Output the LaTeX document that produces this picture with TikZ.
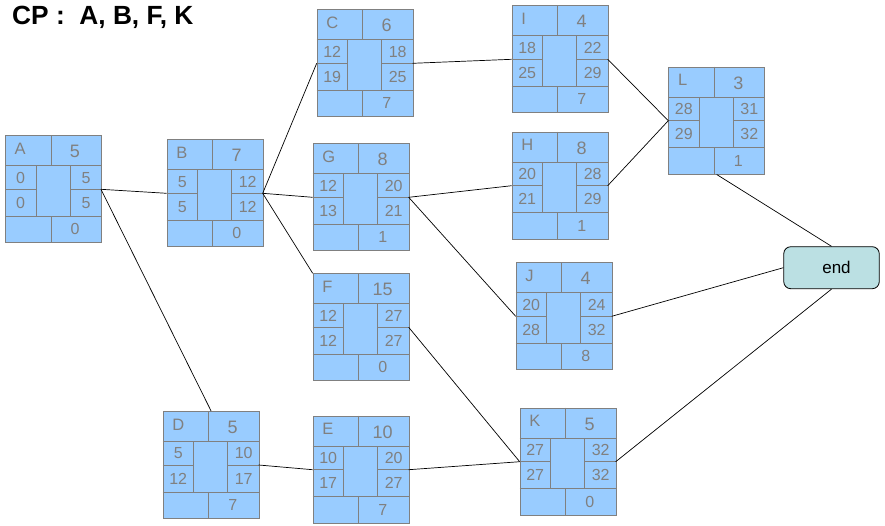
\documentclass[tikz,border=0pt]{standalone}
\usepackage{fontspec}
\setmainfont{Liberation Sans}
\definecolor{cellblue}{HTML}{99CCFF}
\definecolor{cellgray}{HTML}{808080}
\definecolor{endfill}{HTML}{BBE0E3}
\tikzset{
  actcell/.style={draw=cellgray,fill=cellblue,line width=0.8pt,minimum width=96pt,minimum height=107pt,inner sep=0pt},
  actline/.style={draw=cellgray,line width=0.8pt},
  actnum/.style={text=cellgray,inner sep=0pt,font=\fontsize{16}{17}\selectfont},
  actlab/.style={text=cellgray,inner sep=0pt,font=\fontsize{16.5}{17}\selectfont},
  actdur/.style={text=cellgray,inner sep=0pt,font=\fontsize{18}{19}\selectfont},
  link/.style={draw=black,line width=0.7pt},
  endbox/.style={draw=black,fill=endfill,rounded corners=7pt,line width=0.8pt,minimum width=95.5pt,minimum height=42pt,inner sep=0pt,font=\fontsize{17}{18}\selectfont}
}
% activity box: name, top-left corner, duration, ES, LS, EF, LF, slack
\newcommand{\actbox}[8]{%
\begin{scope}[shift={(#2)}]
\node[actcell,anchor=north west] (#1) at (0,0) {};
\draw[actline] (0,30.5) -- (96,30.5);
\draw[actline] (46,0) -- (46,30.5);
\draw[actline] (0,81) -- (96,81);
\draw[actline] (46,81) -- (46,107);
\draw[actline] (31,30.5) -- (31,81);
\draw[actline] (65,30.5) -- (65,81);
\draw[actline] (0,54) -- (31,54);
\draw[actline] (65,54) -- (96,54);
\coordinate (#1-w) at (0,54);
\coordinate (#1-e) at (96,54);
\node[actlab,anchor=base west] (#1-lab) at (9.5,19) {#1};
\node[actdur] (#1-dur) at (70,16.5) {#3};
\node[actnum] (#1-es) at (15.5,42.3) {#4};
\node[actnum] (#1-ls) at (15.5,67.5) {#5};
\node[actnum] (#1-ef) at (81,42.3) {#6};
\node[actnum] (#1-lf) at (81,67.5) {#7};
\node[actnum] (#1-sl) at (70,94) {#8};
\end{scope}}
\begin{document}
\begin{tikzpicture}[x=1pt,y=-1pt]
\useasboundingbox (0,0) rectangle (885,525);

\node[anchor=base west,inner sep=0pt,font=\bfseries\fontsize{26.3}{27}\selectfont] (cp) at (12,24) {CP :~~A, B, F, K};

\actbox{A}{5,135.3}{5}{0}{0}{5}{5}{0}
\actbox{B}{166.7,139.3}{7}{5}{5}{12}{12}{0}
\actbox{C}{316.7,9.3}{6}{12}{19}{18}{25}{7}
\actbox{G}{312.7,143.3}{8}{12}{13}{20}{21}{1}
\actbox{F}{312.7,273.3}{15}{12}{12}{27}{27}{0}
\actbox{D}{162.7,411}{5}{5}{12}{10}{17}{7}
\actbox{E}{312.7,415.7}{10}{10}{17}{20}{27}{7}
\actbox{I}{511.7,5.3}{4}{18}{25}{22}{29}{7}
\actbox{H}{511.7,131.7}{8}{20}{21}{28}{29}{1}
\actbox{J}{515.7,262.3}{4}{20}{28}{24}{32}{8}
\actbox{K}{519.7,407.7}{5}{27}{27}{32}{32}{0}
\actbox{L}{668.3,66.7}{3}{28}{29}{31}{32}{1}

\node[endbox] (end) at (831.5,267.7) {\hspace{10pt}end};

\draw[link] (A-e) -- (B-w);
\draw[link] (A-e) -- (D.north);
\draw[link] (B-e) -- (C-w);
\draw[link] (B-e) -- (G-w);
\draw[link] (B-e) -- (F.north west);
\draw[link] (C-e) -- (I-w);
\draw[link] (G-e) -- (H-w);
\draw[link] (G-e) -- (J-w);
\draw[link] (F-e) -- (K-w);
\draw[link] (D-e) -- (E-w);
\draw[link] (E-e) -- (K-w);
\draw[link] (I-e) -- (L-w);
\draw[link] (H-e) -- (L-w);
\draw[link] (L.south) -- (end.north);
\draw[link] (J-e) -- (end.west);
\draw[link] (K-e) -- (end.south);
\end{tikzpicture}
\end{document}
